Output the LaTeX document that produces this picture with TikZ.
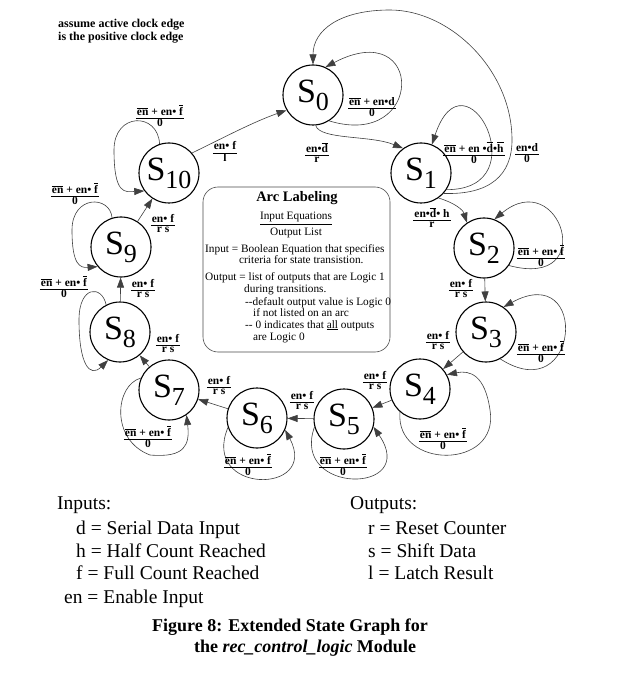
\documentclass[tikz,border=0pt]{standalone}
\usepackage{fontspec}
\setmainfont{Liberation Serif}
\usetikzlibrary{arrows.meta}
\newcommand{\ov}[1]{$\overline{\hbox{#1}}$}
\newcommand{\fr}[2]{{\setlength\tabcolsep{1pt}\renewcommand\arraystretch{0.88}\begin{tabular}{c}#1\\\hline #2\end{tabular}}}
\newcommand{\stname}[1]{{\fontsize{34}{34}\selectfont S\raisebox{-8pt}{\fontsize{26}{26}\selectfont #1}}}
\newcommand{\selfeq}{\fr{\ov{en} + en\textbullet\ \ov{f}}{0}}
\newcommand{\fwdeq}{\fr{en\textbullet\ f}{r s}}
\begin{document}
\begin{tikzpicture}[x=1pt,y=-1pt,
 state/.style={circle,draw,line width=1.1pt,minimum size=60pt,inner sep=0pt},
 arc/.style={draw=black!75,line width=0.6pt,-{Triangle[length=10pt,width=7pt]}},
 lab/.style={font=\fontsize{11.5}{11}\selectfont\bfseries,inner sep=0pt},
 boxtxt/.style={font=\fontsize{11.3}{11}\selectfont,anchor=base west,inner sep=0pt},
 big/.style={font=\fontsize{19.5}{23}\selectfont,anchor=base west,inner sep=0pt}]
\useasboundingbox[fill=white] (0,0) rectangle (636,700);

% notes
\node[font=\fontsize{12}{13}\selectfont\bfseries,anchor=base west,inner sep=0pt] (n1) at (58,28) {assume active clock edge};
\node[font=\fontsize{12}{13}\selectfont\bfseries,anchor=base west,inner sep=0pt] (n2) at (58,41) {is the positive clock edge};

% states
\node[state] (s0) at (313,95) {\stname{0}};
\node[state] (s1) at (421,173) {\stname{1}};
\node[state] (s2) at (484,248) {\stname{2}};
\node[state] (s3) at (486,332) {\stname{3}};
\node[state] (s4) at (420,389) {\stname{4}};
\node[state] (s5) at (344,419) {\stname{5}};
\node[state] (s6) at (257,418) {\stname{6}};
\node[state] (s7) at (169,390) {\stname{7}};
\node[state] (s8) at (120,332) {\stname{8}};
\node[state] (s9) at (121,247) {\stname{9}};
\node[state] (s10) at (169,173) {\stname{10}};

% center box
\draw[draw=black!70,line width=0.6pt,rounded corners=15pt] (203,187) rectangle (390,352);
\node[font=\fontsize{14.5}{14}\selectfont\bfseries,anchor=base,inner sep=0pt] (bt) at (297,202) {Arc Labeling};
\node[font=\fontsize{11.3}{11}\selectfont,anchor=base,inner sep=0pt] (bie) at (296,220) {\underline{Input Equations}};
\node[font=\fontsize{11.3}{11}\selectfont,anchor=base,inner sep=0pt] (bol) at (296,236) {Output List};
\node[boxtxt] (b1) at (205,252) {Input = Boolean Equation that specifies};
\node[boxtxt] (b2) at (239,263) {criteria for state transistion.};
\node[boxtxt] (b3) at (205,280) {Output = list of outputs that are Logic 1};
\node[boxtxt] (b4) at (244,292) {during transitions.};
\node[boxtxt] (b5) at (245,305) {-{}-default output value is Logic 0};
\node[boxtxt] (b6) at (253,316) {if not listed on an arc};
\node[boxtxt] (b7) at (245,328) {-{}- 0 indicates that \underline{all} outputs};
\node[boxtxt] (b8) at (253,340) {are Logic 0};

% forward transitions
\draw[arc] (s10.41) .. controls (223,138) and (253,122) .. (s0.210);
\draw[arc] (s0.-85) .. controls (320,140) and (370,135) .. (s1.126);
\draw[arc] (s1.-55) .. controls (455,203) and (463,210) .. (s2.124);
\draw[arc] (s2) -- (s3);
\draw[arc] (s3) -- (s4);
\draw[arc] (s4) -- (s5);
\draw[arc] (s5) -- (s6);
\draw[arc] (s6) -- (s7);
\draw[arc] (s7) -- (s8);
\draw[arc] (s8) -- (s9);
\draw[arc] (s9) -- (s10);
\draw[arc] (s1.-42) .. controls (490,195) and (512,175) .. (512,140)
   .. controls (512,70) and (450,10) .. (390,10)
   .. controls (340,10) and (313,30) .. (s0.90);

% self loops
\draw[arc] (s0.-58) .. controls (425,150) and (425,15) .. (s0.66);
\draw[arc] (s1.-33) .. controls (540,190) and (465,45) .. (s1.69);
\draw[arc] (s2.-35) .. controls (600,290) and (560,165) .. (s2.70);
\draw[arc] (s3.-62) .. controls (580,410) and (590,260) .. (s3.55);
\draw[arc] (s4.-131) .. controls (395,470) and (500,470) .. (490,410) .. controls (485,375) and (470,370) .. (s4.28);
\draw[arc] (s5.-165) .. controls (290,495) and (420,495) .. (s5.-15);
\draw[arc] (s6.-162) .. controls (200,495) and (320,495) .. (s6.-23);
\draw[arc] (s7.157) .. controls (115,385) and (110,440) .. (150,455) .. controls (185,458) and (190,445) .. (s7.-55);
\draw[arc] (s8.117) .. controls (102,285) and (79,285) .. (79,320) .. controls (79,365) and (90,378) .. (s8.-113);
\draw[arc] (s9.107) .. controls (110,195) and (72,195) .. (72,230) .. controls (72,265) and (80,268) .. (s9.-140);
\draw[arc] (s10.108) .. controls (158,112) and (114,112) .. (114,150) .. controls (114,195) and (125,192) .. (s10.-144);

% arc labels
\node[lab] (l10) at (160,117) {\selfeq};
\node[lab] (l10x0) at (225,153) {\fr{en\textbullet\ f}{l}};
\node[lab] (l0x1) at (317,154) {\fr{en\textbullet\ov{d}}{r}};
\node[lab] (l0) at (372,108) {\fr{\ov{en} + en\textbullet d}{0}};
\node[lab] (l1) at (474,154) {\fr{\ov{en} + en \textbullet\ov{d}\textbullet\ov{h}}{0}};
\node[lab] (l1x0) at (527,154) {\fr{en\textbullet d}{0}};
\node[lab] (l1x2) at (432,219) {\fr{en\textbullet\ov{d}\textbullet\ h}{r}};
\node[lab] (l2) at (541,257) {\selfeq};
\node[lab] (l2x3) at (461,290) {\fwdeq};
\node[lab] (l3) at (541,353) {\selfeq};
\node[lab] (l3x4) at (438,342) {\fwdeq};
\node[lab] (l4) at (443,440) {\selfeq};
\node[lab] (l4x5) at (375,382) {\fwdeq};
\node[lab] (l5) at (343,466) {\selfeq};
\node[lab] (l5x6) at (302,402) {\fwdeq};
\node[lab] (l6) at (248,466) {\selfeq};
\node[lab] (l6x7) at (219,387) {\fwdeq};
\node[lab] (l7) at (148,438) {\selfeq};
\node[lab] (l7x8) at (168,345) {\fwdeq};
\node[lab] (l8) at (64,288) {\selfeq};
\node[lab] (l8x9) at (143,290) {\fwdeq};
\node[lab] (l9) at (75,195) {\selfeq};
\node[lab] (l9x10) at (163,225) {\fwdeq};

% legend
\node[big] (inp) at (57,509) {Inputs:};
\node[big] (i1) at (76,534) {d = Serial Data Input};
\node[big] (i2) at (76,557) {h = Half Count Reached};
\node[big] (i3) at (76,579) {f = Full Count Reached};
\node[big] (i4) at (64,603) {en = Enable Input};
\node[big] (outp) at (350,509) {Outputs:};
\node[big] (o1) at (368,534) {r = Reset Counter};
\node[big] (o2) at (368,557) {s = Shift Data};
\node[big] (o3) at (368,579) {l = Latch Result};

% caption
\node[font=\fontsize{18}{20}\selectfont\bfseries,anchor=base,inner sep=0pt] (c1) at (290,631) {Figure 8: Extended State Graph for};
\node[font=\fontsize{18}{20}\selectfont\bfseries,anchor=base,inner sep=0pt] (c2) at (305,652) {the \textit{rec\_control\_logic} Module};
\end{tikzpicture}
\end{document}
